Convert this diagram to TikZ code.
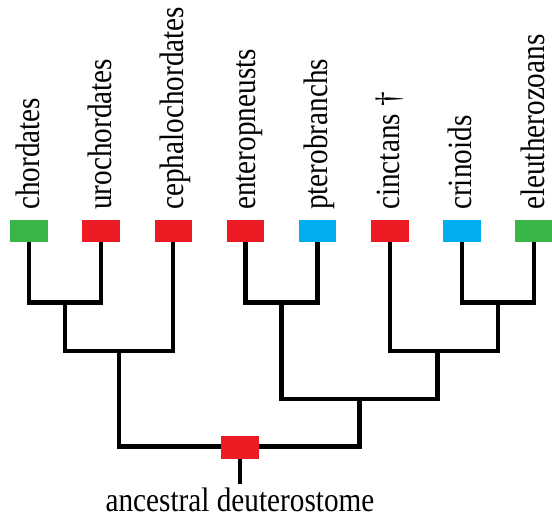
\documentclass[tikz,border=0pt]{standalone}
\usepackage{fontspec}
\newfontfamily\taxfont{Liberation Serif}
\usetikzlibrary{positioning}
\definecolor{green}{RGB}{58,181,74}
\definecolor{red}{RGB}{237,28,36}
\definecolor{cyan}{RGB}{0,174,239}
\newcommand{\taxname}[1]{\scalebox{0.86}[1]{#1}}

\begin{document}
\begin{tikzpicture}[x=1pt, y=-1pt, font=\taxfont\fontsize{34}{40}\selectfont,
  taxon/.style={minimum width=37.5pt, minimum height=22.5pt, inner sep=0pt, outer sep=0pt},
  lbl/.style={inner sep=0pt, rotate=90, anchor=base west},
  branch/.style={line width=4.3pt, black}]
\useasboundingbox (0,0) rectangle (552,524);
% leaf boxes
\node[taxon, fill=green] (chordates) at (29,231.2) {};
\node[taxon, fill=red] (urochordates) at (101.15,231.2) {};
\node[taxon, fill=red] (cephalochordates) at (173.3,231.2) {};
\node[taxon, fill=red] (enteropneusts) at (245.45,231.2) {};
\node[taxon, fill=cyan] (pterobranchs) at (317.6,231.2) {};
\node[taxon, fill=red] (cinctans) at (389.75,231.2) {};
\node[taxon, fill=cyan] (crinoids) at (461.9,231.2) {};
\node[taxon, fill=green] (eleutherozoans) at (534.05,231.2) {};
% leaf labels
\node[lbl] (chordatesLbl) at (39,210) {\taxname{chordates}};
\node[lbl] (urochordatesLbl) at (111.15,210) {\taxname{urochordates}};
\node[lbl] (cephalochordatesLbl) at (183.3,210) {\taxname{cephalochordates}};
\node[lbl] (enteropneustsLbl) at (255.45,210) {\taxname{enteropneusts}};
\node[lbl] (pterobranchsLbl) at (327.6,210) {\taxname{pterobranchs}};
\node[lbl] (cinctansLbl) at (399.75,210) {\taxname{cinctans †}};
\node[lbl] (crinoidsLbl) at (471.9,210) {\taxname{crinoids}};
\node[lbl] (eleutherozoansLbl) at (544.05,210) {\taxname{eleutherozoans}};
% branch points
\coordinate (uroJ) at (65,302.5);
\coordinate (chordJ) at (119.2,350.8);
\coordinate (hemiJ) at (281.5,302.5);
\coordinate (eleuJ) at (498,302.5);
\coordinate (echinoJ) at (437.5,350.8);
\coordinate (ambJ) at (359.5,399);
% tree
\draw[branch] (chordates.south) |- (uroJ) -| (urochordates.south);
\draw[branch] (uroJ) |- (chordJ) -| (cephalochordates.south);
\draw[branch] (enteropneusts.south) |- (hemiJ) -| (pterobranchs.south);
\draw[branch] (crinoids.south) |- (eleuJ) -| (eleutherozoans.south);
\draw[branch] (cinctans.south) |- (echinoJ) -| (eleuJ);
\draw[branch] (hemiJ) |- (ambJ) -| (echinoJ);
\draw[branch] (chordJ) |- (240,446.5) -| (ambJ);
% root
\node[taxon, fill=red, minimum width=38pt, minimum height=23pt] (ancestor) at (240,447.5) {};
\node[inner sep=0pt, inner ysep=4pt, anchor=base] (ancestorLbl) at (240,511.7) {\taxname{ancestral deuterostome}};
\draw[branch] (ancestor.south) -- (ancestorLbl.north);
\end{tikzpicture}
\end{document}
